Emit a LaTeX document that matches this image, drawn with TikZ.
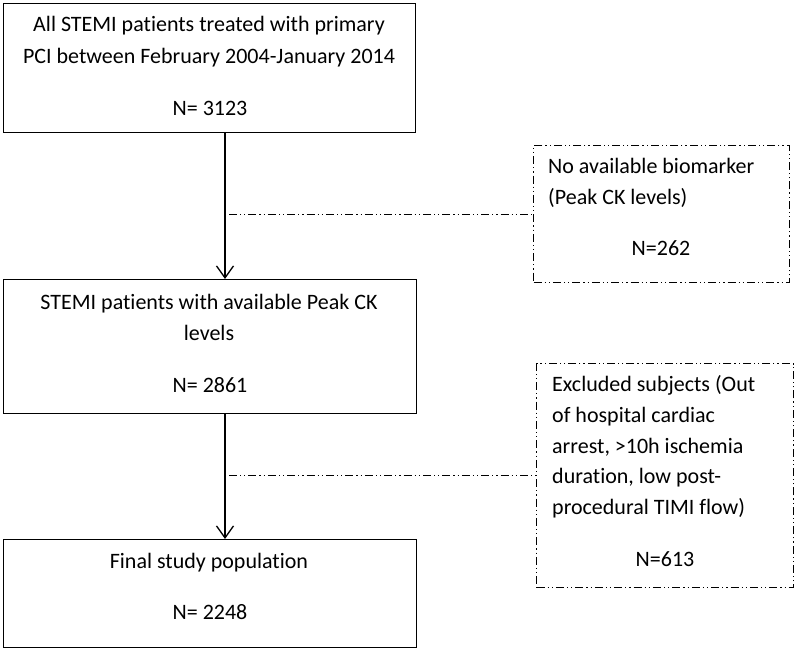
\documentclass[tikz,border=0pt]{standalone}
\usepackage{fontspec}
\setmainfont{Carlito}[Ligatures=NoCommon]
\usetikzlibrary{arrows.meta}
\begin{document}
\begin{tikzpicture}[x=1pt,y=-1pt,
  solidbox/.style={draw, line width=1.4pt, inner sep=0pt, anchor=north west},
  dashbox/.style={draw, line width=1.1pt, inner sep=0pt, anchor=north west,
    dash pattern=on 8pt off 3pt on 1.2pt off 3pt on 1.2pt off 3pt},
  txt/.style={font=\fontsize{22pt}{26pt}\selectfont, inner sep=0pt},
  flow/.style={line width=1.3pt, -{Straight Barb[length=12pt,width=17pt,line width=1.3pt]}},
  side/.style={line width=1.1pt, dash pattern=on 8pt off 3pt on 1.2pt off 3pt on 1.2pt off 3pt}]
\useasboundingbox (0,0) rectangle (797,651);
\fill[white] (0,0) rectangle (797,651);

% boxes
\node[solidbox, minimum width=412pt, minimum height=129pt] (b1) at (3,3) {};
\node[solidbox, minimum width=413pt, minimum height=134pt] (b2) at (3,279) {};
\node[solidbox, minimum width=413pt, minimum height=108pt] (b3) at (3,539) {};
\node[dashbox, minimum width=256pt, minimum height=137pt] (r1) at (533,145) {};
\node[dashbox, minimum width=257pt, minimum height=224pt] (r2) at (536,363) {};

% texts
\node[txt, anchor=base] (t1a) at (209,31) {All STEMI patients treated with primary};
\node[txt, anchor=base] (t1b) at (209,63) {PCI between February 2004-January 2014};
\node[txt, anchor=base] (n1) at (210,115) {N= 3123};

\node[txt, anchor=base] (t2a) at (209,309) {STEMI patients with available Peak CK};
\node[txt, anchor=base] (t2b) at (209,340) {levels};
\node[txt, anchor=base] (n2) at (210,392) {N= 2861};

\node[txt, anchor=base] (t3a) at (209,568) {Final study population};
\node[txt, anchor=base] (n3) at (210,619) {N= 2248};

\node[txt, anchor=base west] (r1a) at (548,173) {No available biomarker};
\node[txt, anchor=base west] (r1b) at (548,204) {(Peak CK levels)};
\node[txt, anchor=base] (rn1) at (661,255) {N=262};

\node[txt, anchor=base west] (r2a) at (552,391) {Excluded subjects (Out};
\node[txt, anchor=base west] (r2b) at (552,422) {of hospital cardiac};
\node[txt, anchor=base west] (r2c) at (552,453) {arrest, >10h ischemia};
\node[txt, anchor=base west] (r2d) at (552,483) {duration, low post-};
\node[txt, anchor=base west] (r2e) at (552,514) {procedural TIMI flow)};
\node[txt, anchor=base] (rn2) at (665,566) {N=613};

% connectors
\coordinate (ax) at (225,0);
\coordinate (sx) at (229,0);
\draw[flow] (b1.south -| ax) -- (b2.north -| ax);
\draw[flow] (b2.south -| ax) -- (b3.north -| ax);
\draw[side] (sx |- r1.west) -- (r1.west);
\draw[side] (sx |- r2.west) -- (r2.west);
\end{tikzpicture}
\end{document}
